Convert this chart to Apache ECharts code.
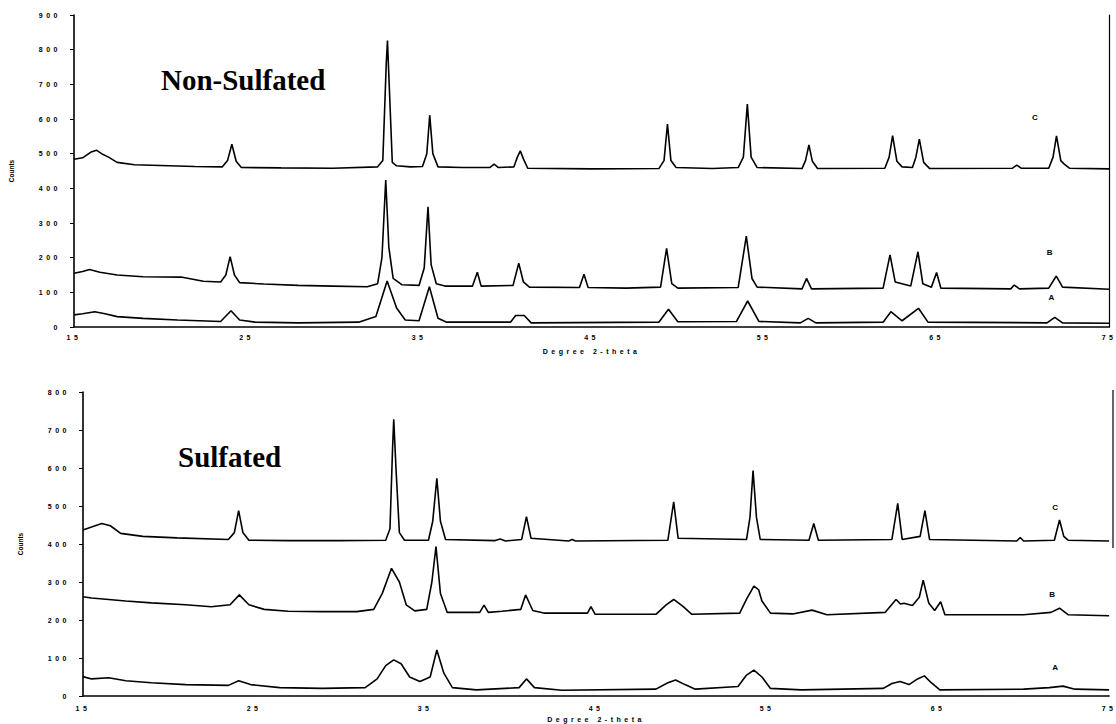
<!DOCTYPE html>
<html>
<head>
<meta charset="utf-8">
<script src="https://cdn.jsdelivr.net/npm/echarts@6/dist/echarts.min.js"></script>
<style>
  html, body { margin: 0; padding: 0; background: #fff; }
  #main { width: 1116px; height: 724px; }
  /* spaced-out small typewriter-ish labels of the original */
  #main text[style*="7px"] { letter-spacing: 3.5px; }
</style>
</head>
<body>
<div id="main"></div>
<script>
// 2-theta tick labels
const xTicks = [15, 25, 35, 45, 55, 65, 75]

// Non-Sulfated traces [2-theta, counts]
const nsA = [[15, 35], [15.5, 38], [16.2, 44], [16.8, 38], [17.5, 30], [19, 25], [21, 20], [23.5, 16], [24.1, 47], [24.6, 20], [25.5, 14], [28, 12], [31.5, 14], [32.5, 30], [33.15, 133], [33.7, 55], [34.2, 20], [35.0, 18], [35.6, 116], [36.1, 25], [36.6, 14], [40.3, 14], [40.6, 33], [41.1, 33], [41.5, 12], [48.9, 14], [49.46, 51], [50.0, 15], [53.4, 16], [54.05, 75], [54.7, 16], [57.1, 12], [57.56, 25], [58.0, 12], [61.9, 14], [62.35, 44], [63.0, 18], [63.95, 54], [64.5, 14], [71.4, 12], [71.85, 28], [72.3, 12], [75, 11]]
const nsB = [[15, 155], [15.5, 160], [15.9, 166], [16.5, 158], [17.5, 150], [19, 145], [21.2, 144], [22.5, 132], [23.5, 130], [23.8, 150], [24.05, 203], [24.3, 150], [24.6, 128], [26, 124], [28, 120], [30, 118], [32, 116], [32.6, 125], [32.85, 200], [33.07, 424], [33.25, 230], [33.5, 140], [34, 122], [35.0, 120], [35.3, 170], [35.52, 347], [35.7, 180], [36.0, 125], [36.5, 118], [38.1, 118], [38.38, 158], [38.6, 118], [40.45, 120], [40.78, 184], [41.05, 130], [41.4, 115], [44.3, 114], [44.56, 152], [44.8, 114], [47, 112], [49.0, 115], [49.35, 227], [49.65, 125], [50, 112], [53.5, 114], [53.97, 262], [54.3, 140], [54.6, 115], [57.2, 110], [57.46, 140], [57.75, 110], [61.9, 112], [62.3, 208], [62.6, 130], [63.5, 118], [63.92, 217], [64.2, 125], [64.7, 115], [65.0, 157], [65.25, 112], [69.3, 110], [69.5, 121], [69.8, 110], [71.5, 112], [71.94, 147], [72.3, 115], [75, 109]]
const nsC = [[15, 484], [15.5, 488], [16.0, 505], [16.3, 510], [16.6, 500], [17.0, 490], [17.5, 475], [18.5, 468], [20, 466], [22, 463], [23.6, 462], [23.9, 480], [24.15, 527], [24.4, 478], [24.7, 460], [27, 459], [30, 458], [32.6, 462], [32.9, 480], [33.1, 760], [33.17, 826], [33.27, 700], [33.45, 475], [33.7, 465], [34.5, 462], [35.2, 463], [35.45, 500], [35.62, 611], [35.8, 500], [36.1, 462], [37.5, 460], [39.1, 460], [39.35, 470], [39.6, 460], [40.5, 462], [40.7, 490], [40.87, 508], [41.05, 485], [41.3, 458], [45, 456], [48.9, 457], [49.2, 480], [49.4, 585], [49.6, 480], [49.9, 460], [52, 457], [53.5, 460], [53.8, 490], [54.03, 643], [54.25, 490], [54.6, 460], [57.2, 457], [57.4, 480], [57.6, 525], [57.8, 478], [58.1, 457], [62.0, 458], [62.25, 490], [62.45, 552], [62.7, 478], [63.0, 462], [63.6, 460], [63.8, 490], [64.0, 542], [64.25, 475], [64.6, 457], [69.4, 458], [69.65, 467], [69.9, 458], [71.5, 458], [71.75, 490], [71.95, 551], [72.2, 480], [72.4, 470], [72.7, 458], [75, 456]]

// Sulfated traces [2-theta, counts]
const sA = [[15, 51], [15.5, 45], [16.5, 48], [17.5, 40], [19, 35], [21, 30], [23.5, 28], [24.1, 40], [24.8, 30], [26.5, 22], [29, 20], [31.5, 22], [32.2, 45], [32.7, 80], [33.17, 95], [33.6, 85], [34.1, 50], [34.7, 38], [35.3, 50], [35.69, 121], [36.1, 60], [36.6, 22], [38, 16], [40.5, 22], [40.93, 45], [41.4, 22], [43, 15], [48.5, 18], [49.2, 35], [49.65, 42], [50.2, 30], [50.8, 18], [53.3, 25], [53.8, 55], [54.23, 68], [54.7, 50], [55.2, 20], [57, 16], [61.8, 20], [62.3, 33], [62.78, 38], [63.3, 30], [63.8, 45], [64.2, 53], [64.6, 35], [65.1, 16], [70, 18], [71.5, 22], [72.3, 26], [73, 18], [75, 16]]
const sB = [[15, 261], [15.5, 258], [16.5, 254], [17.5, 250], [19, 245], [21, 240], [22.5, 235], [23.6, 240], [24.14, 266], [24.7, 240], [25.6, 228], [27, 223], [29, 222], [31, 222], [32.0, 228], [32.5, 270], [33.04, 336], [33.5, 300], [33.9, 240], [34.4, 224], [35.1, 228], [35.4, 300], [35.64, 393], [35.9, 270], [36.3, 220], [38.2, 220], [38.45, 239], [38.7, 220], [39.5, 223], [40.6, 228], [40.88, 266], [41.3, 225], [42, 218], [44.5, 218], [44.7, 235], [44.95, 215], [48.5, 215], [49.1, 240], [49.54, 254], [50.1, 235], [50.6, 215], [53.4, 218], [53.8, 255], [54.23, 289], [54.5, 280], [54.7, 250], [55.2, 218], [56.5, 216], [57.63, 226], [58.5, 214], [61.9, 220], [62.54, 254], [62.8, 242], [63.0, 244], [63.5, 238], [63.9, 260], [64.13, 305], [64.45, 245], [64.8, 225], [65.15, 248], [65.4, 214], [70, 214], [71.6, 220], [72.1, 231], [72.6, 214], [75, 211]]
const sC = [[15, 437], [15.5, 445], [16.1, 454], [16.6, 448], [17.2, 428], [18.5, 420], [20.5, 416], [23.5, 412], [23.85, 430], [24.1, 488], [24.35, 430], [24.7, 410], [27, 409], [30, 409], [32.7, 410], [32.95, 440], [33.1, 650], [33.17, 728], [33.3, 600], [33.5, 430], [33.8, 410], [35.2, 410], [35.45, 460], [35.69, 573], [35.9, 460], [36.2, 412], [39.1, 409], [39.4, 413], [39.7, 408], [40.65, 412], [40.93, 472], [41.2, 415], [43.4, 408], [43.6, 412], [43.8, 408], [49.2, 410], [49.54, 511], [49.8, 415], [53.8, 412], [54.0, 470], [54.18, 593], [54.38, 470], [54.6, 412], [57.45, 410], [57.73, 454], [58.0, 410], [62.3, 412], [62.64, 507], [62.9, 412], [63.95, 420], [64.23, 488], [64.5, 412], [69.6, 408], [69.8, 417], [70.0, 408], [71.8, 410], [72.1, 463], [72.35, 420], [72.6, 410], [75, 408]]

// where the A/B/C tags sit [2-theta, counts]
const nsTags = [['A', 71.66, 84], ['B', 71.56, 214], ['C', 70.7, 604]]
const sTags = [['A', 71.84, 74], ['B', 71.67, 266], ['C', 71.84, 496]]

const myChart = echarts.init(document.getElementById('main'), null, { renderer: 'svg' })

const tickFont = { fontSize: 7, fontWeight: 'bold', fontFamily: 'Liberation Sans', color: '#000' }

function xAxis(gridIndex, margin, nameGap) {
    return {
        type: 'value', gridIndex: gridIndex, min: xTicks[0], max: xTicks[xTicks.length - 1], interval: 10,
        axisLine: { lineStyle: { color: '#000', width: 1.6 } },
        axisTick: { show: false },
        splitLine: { show: false },
        axisLabel: Object.assign({ margin: margin }, tickFont),
        name: 'Degree 2-theta', nameLocation: 'middle', nameGap: nameGap,
        nameTextStyle: { fontSize: 7, fontWeight: 'bold', fontFamily: 'Liberation Sans', color: '#000' }
    }
}

function yAxis(gridIndex, max) {
    return {
        type: 'value', gridIndex: gridIndex, min: 0, max: max, interval: 100,
        axisLine: { show: true, lineStyle: { color: '#000', width: 1.6 } },
        axisTick: { show: true, length: 4, lineStyle: { color: '#000' } },
        splitLine: { show: false },
        axisLabel: Object.assign({ margin: 13 }, tickFont),
        name: 'Counts', nameLocation: 'middle', nameGap: 59,
        nameTextStyle: { fontSize: 6.5, fontWeight: 'bold', fontFamily: 'Liberation Sans', color: '#000' }
    }
}

function trace(name, data, idx, tags) {
    return {
        type: 'line', name: name, data: data, xAxisIndex: idx, yAxisIndex: idx,
        showSymbol: false, symbol: 'none', animation: false, silent: true,
        lineStyle: { color: '#000', width: 1.6 },
        markPoint: tags ? {
            symbol: 'circle', symbolSize: 0,
            label: { show: true, position: 'inside', fontSize: 8, fontWeight: 'bold', fontFamily: 'Liberation Sans', color: '#000', formatter: p => p.name },
            data: tags.map(t => ({ name: t[0], coord: [t[1], t[2]] }))
        } : undefined
    }
}

const option = {
    backgroundColor: '#fff',
    animation: false,
    title: [
        { text: 'Non-Sulfated', left: 161, top: 65, padding: 0,
          textStyle: { fontFamily: 'Liberation Serif', fontWeight: 'bold', fontSize: 29, color: '#000' } },
        { text: 'Sulfated', left: 178, top: 442, padding: 0,
          textStyle: { fontFamily: 'Liberation Serif', fontWeight: 'bold', fontSize: 29, color: '#000' } }
    ],
    grid: [
        { left: 72, top: 15, width: 1040, height: 312 },
        { left: 83, top: 392, width: 1030, height: 304 }
    ],
    xAxis: [xAxis(0, 7, 21), xAxis(1, 9, 20)],
    yAxis: [
        yAxis(0, 900), yAxis(1, 800),
        { type: 'value', gridIndex: 0, position: 'right', min: 0, max: 900,
          axisLine: { show: true, lineStyle: { color: '#000', width: 1.2 } },
          axisTick: { show: false }, axisLabel: { show: false }, splitLine: { show: false } }
    ],
    graphic: [
        { type: 'line', shape: { x1: 1113, y1: 390, x2: 1113, y2: 548 }, style: { stroke: '#000', lineWidth: 1.2 } }
    ],
    series: [
        trace('A', nsA, 0, nsTags),
        trace('B', nsB, 0),
        trace('C', nsC, 0),
        trace('A', sA, 1, sTags),
        trace('B', sB, 1),
        trace('C', sC, 1)
    ]
}
myChart.setOption(option)
</script>
</body>
</html>
